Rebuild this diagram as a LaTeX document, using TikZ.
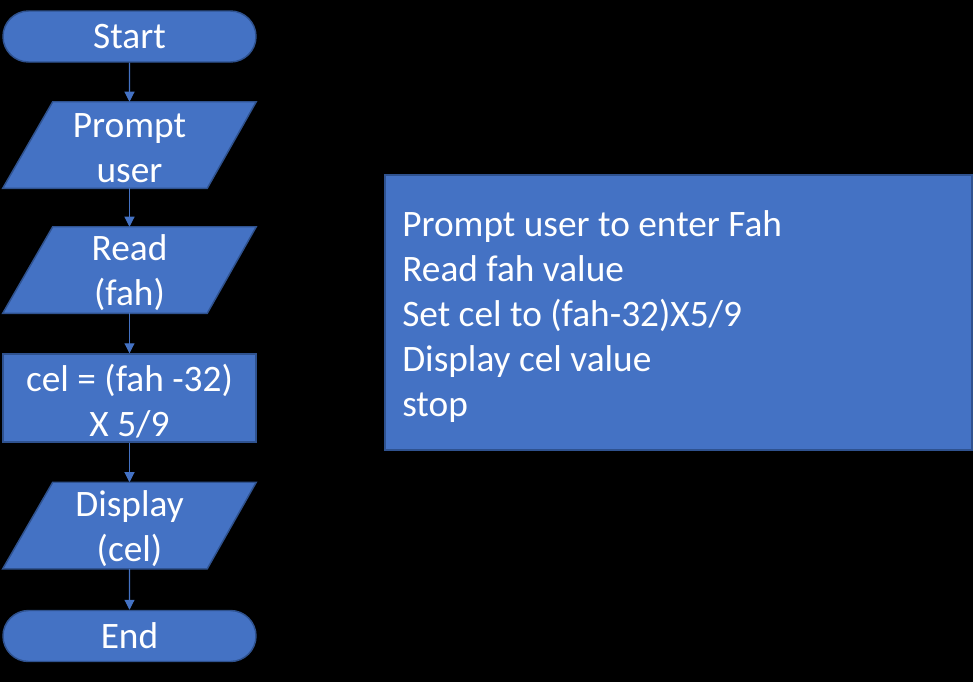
\documentclass[tikz,border=0pt]{standalone}
\usepackage{fontspec}
\setmainfont{Carlito}
\usetikzlibrary{arrows.meta,shapes.misc,calc}
\definecolor{fillblue}{HTML}{4472C4}
\definecolor{edgeblue}{HTML}{2F528F}
\pgfdeclarelayer{bg}
\pgfsetlayers{bg,main}
\begin{document}
\begin{tikzpicture}[x=0.75pt,y=-0.75pt,
  txt/.style={text=white,font=\fontsize{28}{33.75}\selectfont,align=center,inner sep=0pt},
  term/.style={txt,rounded rectangle,fill=fillblue,draw=edgeblue,line width=1.1pt,
    minimum width=189.75pt,minimum height=38.25pt},
  iobox/.style={rectangle,inner sep=0pt,minimum width=189.75pt,minimum height=64.5pt},
  iofill/.style={fill=fillblue,draw=edgeblue,line width=1.1pt},
  procbox/.style={rectangle,inner sep=0pt,fill=fillblue,draw=edgeblue,line width=1.1pt,
    minimum width=189.75pt,minimum height=66pt},
  arr/.style={draw=fillblue,line width=0.8pt,-{Triangle[width=7.5pt,length=7.5pt]}},
]
\begin{pgfonlayer}{bg}
\fill[black] (0,0) rectangle (973,682);
\end{pgfonlayer}
\useasboundingbox (0,0) rectangle (973,682);

\node[term] (start) at (129.5,36.5) {Start};
\node[iobox] (prompt) at (129.5,145) {};
\node[iobox] (read) at (129.5,270) {};
\node[procbox] (calc) at (129.5,398) {};
\node[iobox] (disp) at (129.5,525.5) {};
\node[term] (stop) at (129.5,636) {End};

\node[txt] (promptT) at ($(prompt.center)+(0,3)$) {Prompt\\user};
\node[txt] (readT) at ($(read.center)+(0,3)$) {Read\\(fah)};
\node[txt] (calcT) at ($(calc.center)+(0,3)$) {cel = (fah -32)\\X 5/9};
\node[txt] (dispT) at ($(disp.center)+(0,3)$) {Display\\(cel)};

\begin{pgfonlayer}{bg}
\foreach \n in {prompt,read,disp}{
  \draw[iofill] ($(\n.north west)+(50,0)$) -- (\n.north east)
     -- ($(\n.south east)+(-49,0)$) -- (\n.south west) -- cycle;
}
\end{pgfonlayer}

\draw[arr] (start) -- (prompt);
\draw[arr] (prompt) -- (read);
\draw[arr] (read) -- (calc);
\draw[arr] (calc) -- (disp);
\draw[arr] (disp) -- (stop);

\node[rectangle,fill=fillblue,draw=edgeblue,line width=1.1pt,
  minimum width=440.25pt,minimum height=206.25pt] (algo) at (678.5,312.5) {};
\node[txt,align=left,anchor=west] (algoT) at (402,317)
  {Prompt user to enter Fah\\Read fah value\\Set cel to (fah-32)X5/9\\Display cel value\\stop};
\end{tikzpicture}
\end{document}
